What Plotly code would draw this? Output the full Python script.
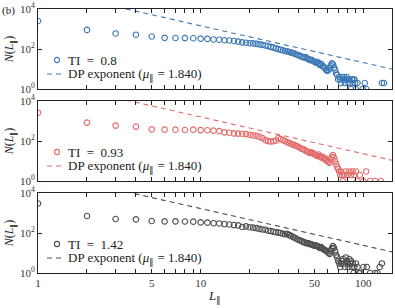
import plotly.graph_objects as go

# ---------------- data ----------------
L_blue = list(range(1, 90)) + [90, 92, 99, 102, 104, 130, 134]
N_blue = [2500, 900, 600, 520, 420, 360, 355, 350, 345, 330,
          320, 300, 290, 275, 265, 250, 235, 215, 205, 195,
          190, 180, 170, 160, 150, 140, 128, 118, 108, 98,
          92, 86, 80, 76, 71, 66, 62, 58, 52, 49,
          44, 41, 38, 40, 34, 31, 28, 29, 25, 23,
          21, 23, 19, 16, 18, 14, 13, 11, 9, 8,
          9, 11, 15, 19, 17, 12, 9, 6, 5, 3,
          4, 3, 2, 4, 3, 4, 2, 3, 4, 3,
          2, 3, 2, 1, 3, 2, 3, 3, 2,
          1, 2, 1, 2, 1, 2, 2]

L_red = list(range(1, 77)) + [78, 80, 82, 84, 86, 88, 90, 92, 95, 100, 104, 110, 118, 128]
N_red = [2600, 830, 590, 525, 380, 370, 370, 355, 370, 350,
         345, 330, 310, 270, 260, 240, 235, 230, 220, 205,
         190, 180, 160, 140, 110, 98, 95, 97, 105, 140,
         125, 110, 100, 88, 80, 72, 66, 60, 56, 50,
         45, 40, 38, 34, 30, 28, 25, 27, 24, 22,
         20, 18, 21, 17, 15, 16, 13, 14, 11, 10,
         9, 8, 12, 16, 20, 15, 10, 7, 5, 4,
         3, 2, 3, 2, 1, 2,
         3, 2, 3, 2, 3, 2, 3, 1, 2, 1, 3, 1, 1, 1]

L_gray = list(range(1, 89)) + [90, 92, 94, 96, 100, 105, 110, 118, 122, 126, 130]
N_gray = [3000, 710, 500, 480, 400, 380, 380, 375, 370, 340,
          330, 310, 300, 280, 265, 250, 240, 200, 215, 195,
          185, 175, 160, 150, 145, 130, 125, 115, 110, 105,
          100, 92, 88, 90, 78, 72, 62, 58, 50, 45,
          42, 38, 35, 33, 30, 31, 28, 27, 25, 23,
          24, 22, 21, 18, 20, 17, 15, 14, 13, 12,
          10, 9, 12, 17, 22, 18, 12, 8, 6, 4,
          3, 2, 3, 4, 5, 3, 2, 6, 4, 3,
          2, 5, 3, 4, 2, 3, 1, 2,
          3, 2, 1, 1, 2, 2, 1, 1, 1, 2, 3]

TI_labels = ["0.8", "0.93", "1.42"]
colors = ["#3b78b5", "#e46a6a", "#4d4d4d"]
mu = 1.840
dp_amp = [1.0e5, 1.1e5, 1.15e5]
dp_L = [1, 150]

x_major = [1, 5, 10, 50, 100]
x_minor = [2, 3, 4, 6, 7, 8, 9, 20, 30, 40, 60, 70, 80, 90]
y_tickvals = [1, 100, 10000]
y_ticktext = ["10<sup>0</sup>", "10<sup>2</sup>", "10<sup>4</sup>"]

# ---------------- figure ----------------
FONT = "Liberation Serif"
W, H = 395, 308
ML, MR, MT, MB = 38, 3, 9, 35
PW, PH = W - ML - MR, H - MT - MB


def px(x):
    return (x - ML) / PW


def py(y):
    return (H - MB - y) / PH


fig = go.Figure()
series = [(L_blue, N_blue), (L_red, N_red), (L_gray, N_gray)]
domains = [[0.697, 1.0], [0.3485, 0.6515], [0.0, 0.303]]
panel_off = [0, 92, 184]
shapes, annots = [], []

for i, (Ls, Ns) in enumerate(series):
    ax = "" if i == 0 else str(i + 1)
    fig.add_trace(go.Scatter(
        x=Ls, y=Ns, mode="markers", xaxis="x" + ax, yaxis="y" + ax, showlegend=False,
        marker=dict(symbol="circle-open", size=5.5, color=colors[i], line=dict(width=1.1, color=colors[i]))))
    fig.add_trace(go.Scatter(
        x=dp_L, y=[dp_amp[i] * l ** (-mu) for l in dp_L], mode="lines", showlegend=False,
        xaxis="x" + ax, yaxis="y" + ax,
        line=dict(color=colors[i], width=1.1, dash="5px,4px")))

    tick_common = dict(ticks="inside", ticklen=4, tickwidth=1, tickcolor="#222",
                       showline=True, linecolor="#222", linewidth=1, mirror="ticks",
                       showgrid=False, zeroline=False, automargin=False,
                       tickfont=dict(family=FONT, size=11, color="#333"))
    xa = dict(type="log", range=[0, 2.176], domain=[0, 1], anchor="y" + ax,
              tickvals=x_major, ticktext=[str(v) for v in x_major], showticklabels=(i == 2),
              minor=dict(tickvals=x_minor, ticks="inside", ticklen=4, tickwidth=1, tickcolor="#222", showgrid=False),
              **tick_common)
    ya = dict(type="log", range=[0, 4], domain=domains[i], anchor="x" + ax,
              tickvals=y_tickvals, ticktext=y_ticktext,
              title=dict(text="<i>N</i>(<i>L</i><sub>∥</sub>)", font=dict(family=FONT, size=12, color="#222"), standoff=3),
              **tick_common)
    fig.layout["xaxis" + ax] = xa
    fig.layout["yaxis" + ax] = ya

    # manual legend
    o = panel_off[i]
    shapes.append(dict(type="circle", xref="paper", yref="paper",
                       x0=px(57 - 2.6), x1=px(57 + 2.6), y0=py(60 + o + 2.6), y1=py(60 + o - 2.6),
                       line=dict(color=colors[i], width=1.1)))
    shapes.append(dict(type="line", xref="paper", yref="paper",
                       x0=px(47), x1=px(62), y0=py(74 + o), y1=py(74 + o),
                       line=dict(color=colors[i], width=1.1, dash="5px,4px")))
    annots.append(dict(text="TI\u2002=\u2002" + TI_labels[i], xref="paper", yref="paper",
                       x=px(66), y=py(60 + o), xanchor="left", yanchor="middle", showarrow=False,
                       font=dict(family=FONT, size=13, color="#222")))
    annots.append(dict(text="DP exponent (<i>μ</i><sub>∥</sub> = %.3f)" % mu, xref="paper", yref="paper",
                       x=px(66), y=py(74 + o), xanchor="left", yanchor="middle", showarrow=False,
                       font=dict(family=FONT, size=13, color="#222")))

annots.append(dict(text="(b)", xref="paper", yref="paper", x=px(0), y=py(10),
                   xanchor="left", yanchor="middle", showarrow=False,
                   font=dict(family=FONT, size=11, color="#222")))
annots.append(dict(text="<i>L</i><sub>∥</sub>", xref="paper", yref="paper", x=px(214), y=py(296),
                   xanchor="center", yanchor="middle", showarrow=False,
                   font=dict(family=FONT, size=13, color="#222")))

fig.update_layout(width=W, height=H, margin=dict(l=ML, r=MR, t=MT, b=MB),
                  plot_bgcolor="white", paper_bgcolor="white", showlegend=False,
                  shapes=shapes, annotations=annots)

fig.write_html("out.html", config={"displayModeBar": False, "staticPlot": True},
               post_script="document.body.style.margin='0';document.body.style.overflow='hidden';")
